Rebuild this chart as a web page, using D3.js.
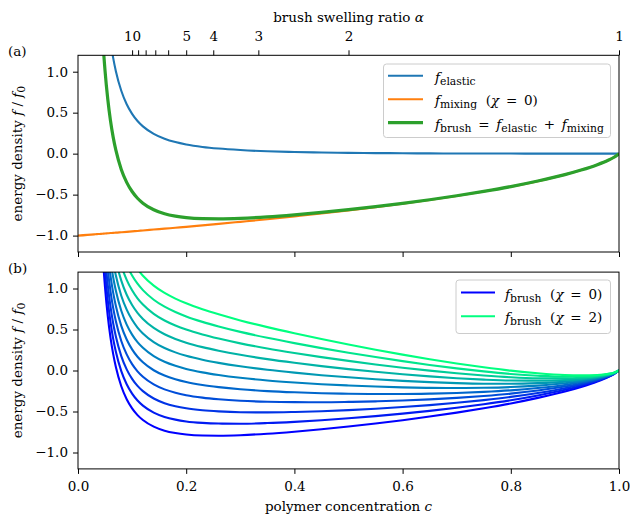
<!DOCTYPE html>
<html>
<head>
<meta charset="utf-8">
<script src="https://cdn.jsdelivr.net/npm/d3@7"></script>
<style>
  body { margin: 0; background: #fff; }
  text { font-family: "DejaVu Serif", serif; fill: #000; white-space: pre; }
</style>
</head>
<body>
<div id="chart"></div>
<script>
// ---- data ----
// panel (a): polymer concentration grid and the three energy densities
var cPanelA = [0, 0.03, 0.035, 0.04, 0.045, 0.05, 0.055, 0.06, 0.065, 0.07, 0.08, 0.09, 0.1, 0.11, 0.12,
  0.14, 0.16, 0.18, 0.2, 0.23, 0.26, 0.3, 0.35, 0.4, 0.45, 0.5, 0.55, 0.6, 0.65, 0.7, 0.75, 0.8, 0.85,
  0.9, 0.93, 0.96, 0.98, 0.99, 1.0];
var fElastic = [null, 5.541, 4.067, 3.110, 2.455, 1.986, 1.639, 1.375, 1.169, 1.006, 0.767, 0.603, 0.486,
  0.399, 0.333, 0.242, 0.182, 0.141, 0.112, 0.082, 0.062, 0.044, 0.029, 0.020, 0.014, 0.010, 0.007, 0.005,
  0.003, 0.002, 0.001, 0.001, 0, 0, 0, 0, 0, 0, 0];
var fMixing = [-1, -0.985, -0.982, -0.980, -0.977, -0.975, -0.972, -0.969, -0.967, -0.964, -0.959, -0.954,
  -0.948, -0.943, -0.937, -0.926, -0.915, -0.904, -0.893, -0.875, -0.857, -0.832, -0.800, -0.766, -0.731,
  -0.693, -0.653, -0.611, -0.565, -0.516, -0.462, -0.402, -0.335, -0.256, -0.200, -0.134, -0.080, -0.047, 0];
var fBrush = [null, 4.556, 3.085, 2.131, 1.477, 1.011, 0.667, 0.405, 0.202, 0.042, -0.192, -0.350, -0.462,
  -0.544, -0.604, -0.685, -0.734, -0.763, -0.781, -0.793, -0.795, -0.789, -0.771, -0.746, -0.717, -0.683,
  -0.646, -0.606, -0.562, -0.514, -0.461, -0.402, -0.334, -0.256, -0.200, -0.134, -0.080, -0.047, 0];

// panel (b): brush energy for chi = 0, 0.2, ..., 2
var cPanelB = [0.04, 0.045, 0.05, 0.055, 0.06, 0.065, 0.07, 0.08, 0.09, 0.1, 0.11, 0.12, 0.14, 0.16, 0.18,
  0.2, 0.23, 0.26, 0.3, 0.35, 0.4, 0.45, 0.5, 0.55, 0.6, 0.65, 0.7, 0.75, 0.8, 0.85, 0.9, 0.93, 0.96, 0.98,
  0.99, 1.0];
var chiValues = [0, 0.2, 0.4, 0.6, 0.8, 1.0, 1.2, 1.4, 1.6, 1.8, 2.0];
var fBrushChi = [
  [2.131, 1.477, 1.011, 0.667, 0.405, 0.202, 0.042, -0.192, -0.350, -0.462, -0.544, -0.604, -0.685, -0.734, -0.763, -0.781, -0.793, -0.795, -0.789, -0.771, -0.746, -0.717, -0.683, -0.646, -0.606, -0.562, -0.514, -0.461, -0.402, -0.334, -0.256, -0.200, -0.134, -0.080, -0.047, 0],
  [2.323, 1.668, 1.201, 0.856, 0.593, 0.389, 0.228, -0.008, -0.168, -0.282, -0.366, -0.428, -0.513, -0.566, -0.599, -0.621, -0.639, -0.647, -0.649, -0.641, -0.626, -0.607, -0.583, -0.556, -0.526, -0.492, -0.454, -0.411, -0.362, -0.304, -0.236, -0.186, -0.126, -0.076, -0.045, 0],
  [2.515, 1.859, 1.391, 1.045, 0.781, 0.576, 0.414, 0.176, 0.014, -0.102, -0.188, -0.252, -0.341, -0.398, -0.435, -0.461, -0.485, -0.499, -0.509, -0.511, -0.506, -0.497, -0.483, -0.466, -0.446, -0.422, -0.394, -0.361, -0.322, -0.274, -0.216, -0.172, -0.118, -0.072, -0.043, 0],
  [2.707, 2.050, 1.581, 1.234, 0.969, 0.763, 0.600, 0.360, 0.196, 0.078, -0.010, -0.076, -0.169, -0.230, -0.271, -0.301, -0.331, -0.351, -0.369, -0.381, -0.386, -0.387, -0.383, -0.376, -0.366, -0.352, -0.334, -0.311, -0.282, -0.244, -0.196, -0.158, -0.110, -0.068, -0.041, 0],
  [2.899, 2.241, 1.771, 1.423, 1.157, 0.950, 0.786, 0.544, 0.378, 0.258, 0.168, 0.100, 0.003, -0.062, -0.107, -0.141, -0.177, -0.203, -0.229, -0.251, -0.266, -0.277, -0.283, -0.286, -0.286, -0.282, -0.274, -0.261, -0.242, -0.214, -0.176, -0.144, -0.102, -0.064, -0.039, 0],
  [3.091, 2.432, 1.961, 1.612, 1.345, 1.137, 0.972, 0.728, 0.560, 0.438, 0.346, 0.276, 0.175, 0.106, 0.057, 0.019, -0.023, -0.055, -0.089, -0.121, -0.146, -0.167, -0.183, -0.196, -0.206, -0.212, -0.214, -0.211, -0.202, -0.184, -0.156, -0.130, -0.094, -0.060, -0.037, 0],
  [3.283, 2.623, 2.151, 1.801, 1.533, 1.324, 1.158, 0.912, 0.742, 0.618, 0.524, 0.452, 0.347, 0.274, 0.221, 0.179, 0.131, 0.093, 0.051, 0.009, -0.026, -0.057, -0.083, -0.106, -0.126, -0.142, -0.154, -0.161, -0.162, -0.154, -0.136, -0.116, -0.086, -0.056, -0.035, 0],
  [3.475, 2.814, 2.341, 1.990, 1.721, 1.511, 1.344, 1.096, 0.924, 0.798, 0.702, 0.628, 0.519, 0.442, 0.385, 0.339, 0.285, 0.241, 0.191, 0.139, 0.094, 0.053, 0.017, -0.016, -0.046, -0.072, -0.094, -0.111, -0.122, -0.124, -0.116, -0.102, -0.078, -0.052, -0.033, 0],
  [3.667, 3.005, 2.531, 2.179, 1.909, 1.698, 1.530, 1.280, 1.106, 0.978, 0.880, 0.804, 0.691, 0.610, 0.549, 0.499, 0.439, 0.389, 0.331, 0.269, 0.214, 0.163, 0.117, 0.074, 0.034, -0.002, -0.034, -0.061, -0.082, -0.094, -0.096, -0.088, -0.070, -0.048, -0.031, 0],
  [3.859, 3.196, 2.721, 2.368, 2.097, 1.885, 1.716, 1.464, 1.288, 1.158, 1.058, 0.980, 0.863, 0.778, 0.713, 0.659, 0.593, 0.537, 0.471, 0.399, 0.334, 0.273, 0.217, 0.164, 0.114, 0.068, 0.026, -0.011, -0.042, -0.064, -0.076, -0.074, -0.062, -0.044, -0.029, 0],
  [4.051, 3.387, 2.911, 2.557, 2.285, 2.072, 1.902, 1.648, 1.470, 1.338, 1.236, 1.156, 1.035, 0.946, 0.877, 0.819, 0.747, 0.685, 0.611, 0.529, 0.454, 0.383, 0.317, 0.254, 0.194, 0.138, 0.086, 0.039, -0.002, -0.034, -0.056, -0.060, -0.054, -0.040, -0.027, 0]
];

// ticks
var cTicks = [0, 0.2, 0.4, 0.6, 0.8, 1.0];
var fTicks = [-1, -0.5, 0, 0.5, 1];
var alphaTicks = [10, 9, 8, 7, 6, 5, 4, 3, 2, 1];
var alphaLabels = ["10", "", "", "", "", "5", "4", "3", "2", "1"];

// ---- layout ----
var W = 630, H = 515, fs = 13.5;
var svg = d3.select("#chart").append("svg").attr("width", W).attr("height", H);

var x = d3.scaleLinear().domain([0, 1]).range([78, 619]);
var yA = d3.scaleLinear().domain([-1.2, 1.2]).range([252, 55.3]);
var yB = d3.scaleLinear().domain([-1.2, 1.2]).range([468.9, 272.1]);

var winter = d3.interpolateRgb("#0000ff", "#00ff80");
var eq = "\u2002=\u2002", plus = "\u2002+\u2002";

// write text with italic / subscript pieces
function mathText(t, parts, size) {
  var shift = 0;
  parts.forEach(function(p) {
    var span = t.append("tspan").text(p[0]);
    var want = p[1] === "s" ? 3 : 0;
    if (want !== shift) { span.attr("dy", want - shift); shift = want; }
    if (p[1] === "i") span.style("font-style", "italic");
    span.style("font-size", (p[1] === "s" ? size * 0.8 : size) + "px");
  });
  return t;
}

function styleAxis(g) {
  g.select(".domain").remove();
  g.selectAll(".tick line").attr("stroke", "#000").attr("stroke-width", 1);
  g.selectAll(".tick text").style("font-size", fs + "px").attr("fill", "#000");
}

function panel(y, id) {
  svg.append("clipPath").attr("id", id)
    .append("rect").attr("x", x(0)).attr("y", y(1.2))
    .attr("width", x(1) - x(0)).attr("height", y(-1.2) - y(1.2));
  // y axis
  svg.append("g").attr("transform", "translate(" + x(0) + ",0)")
    .call(d3.axisLeft(y).tickValues(fTicks).tickFormat(d3.format(".1f")).tickSize(5).tickPadding(5))
    .call(styleAxis);
  return svg.append("g").attr("clip-path", "url(#" + id + ")");
}

function frame(y) {
  svg.append("rect").attr("x", x(0)).attr("y", y(1.2))
    .attr("width", x(1) - x(0)).attr("height", y(-1.2) - y(1.2))
    .attr("fill", "none").attr("stroke", "#000").attr("stroke-width", 1);
}

function yLabel(cy) {
  var t = svg.append("text").attr("text-anchor", "middle")
    .attr("transform", "translate(22," + cy + ") rotate(-90)");
  mathText(t, [["energy density ", "r"], ["f", "i"], [" / ", "r"], ["f", "i"], ["0", "s"]], fs);
}

// ---------------- panel (a) ----------------
var gA = panel(yA, "clipA");

svg.append("g").attr("transform", "translate(0," + yA(-1.2) + ")")
  .call(d3.axisBottom(x).tickValues(cTicks).tickFormat("").tickSize(5))
  .call(styleAxis);

svg.append("g").attr("transform", "translate(0," + yA(1.2) + ")")
  .call(d3.axisTop(x).tickValues(alphaTicks.map(function(a) { return 1 / a; }))
    .tickFormat(function(d, i) { return alphaLabels[i]; }).tickSize(5).tickPadding(9))
  .call(styleAxis);

var lineA = function(vals) {
  return d3.line()
    .defined(function(d, i) { return vals[i] !== null; })
    .x(function(d) { return x(d); })
    .y(function(d, i) { return yA(vals[i]); })
    .curve(d3.curveMonotoneX)(cPanelA);
};

gA.append("path").attr("d", lineA(fElastic)).attr("fill", "none")
  .attr("stroke", "#1f77b4").attr("stroke-width", 2.1);
gA.append("path").attr("d", lineA(fMixing)).attr("fill", "none")
  .attr("stroke", "#ff7f0e").attr("stroke-width", 2.1);
gA.append("path").attr("d", lineA(fBrush)).attr("fill", "none")
  .attr("stroke", "#2ca02c").attr("stroke-width", 3.2);

frame(yA);
yLabel((yA(1.2) + yA(-1.2)) / 2);

var topLabel = svg.append("text").attr("text-anchor", "middle")
  .attr("x", (x(0) + x(1)) / 2).attr("y", 22);
mathText(topLabel, [["brush swelling ratio ", "r"], ["\u03b1", "i"]], fs);

svg.append("text").attr("x", 8).attr("y", 56).style("font-size", fs + "px").text("(a)");

// legend (a)
var legA = svg.append("g");
legA.append("rect").attr("x", 383.5).attr("y", 64).attr("width", 227).attr("height", 73.5)
  .attr("rx", 3).attr("fill", "#fff").attr("fill-opacity", 0.8)
  .attr("stroke", "#cccccc").attr("stroke-width", 1);
var legAItems = [
  { color: "#1f77b4", w: 2.1, parts: [["f", "i"], ["elastic", "s"]] },
  { color: "#ff7f0e", w: 2.1, parts: [["f", "i"], ["mixing", "s"], ["  (", "r"], ["\u03c7", "i"], [eq + "0)", "r"]] },
  { color: "#2ca02c", w: 3.2, parts: [["f", "i"], ["brush", "s"], [eq, "r"], ["f", "i"], ["elastic", "s"],
    [plus, "r"], ["f", "i"], ["mixing", "s"]] }
];
legAItems.forEach(function(d, i) {
  var ry = 75.7 + i * 23.5;
  legA.append("line").attr("x1", 388).attr("x2", 423).attr("y1", ry).attr("y2", ry)
    .attr("stroke", d.color).attr("stroke-width", d.w);
  mathText(legA.append("text").attr("x", 435).attr("y", ry + 6), d.parts, fs);
});

// ---------------- panel (b) ----------------
var gB = panel(yB, "clipB");

svg.append("g").attr("transform", "translate(0," + yB(-1.2) + ")")
  .call(d3.axisBottom(x).tickValues(cTicks).tickFormat(d3.format(".1f")).tickSize(5).tickPadding(8))
  .call(styleAxis);

chiValues.forEach(function(chi, k) {
  var vals = fBrushChi[k];
  var path = d3.line()
    .x(function(d) { return x(d); })
    .y(function(d, i) { return yB(vals[i]); })
    .curve(d3.curveMonotoneX)(cPanelB);
  gB.append("path").attr("d", path).attr("fill", "none")
    .attr("stroke", winter(chi / 2)).attr("stroke-width", 2.1);
});

frame(yB);
yLabel((yB(1.2) + yB(-1.2)) / 2);

svg.append("text").attr("x", 8).attr("y", 273).style("font-size", fs + "px").text("(b)");

var xLabel = svg.append("text").attr("text-anchor", "middle")
  .attr("x", (x(0) + x(1)) / 2).attr("y", 511);
mathText(xLabel, [["polymer concentration ", "r"], ["c", "i"]], fs);

// legend (b)
var legB = svg.append("g");
legB.append("rect").attr("x", 456).attr("y", 280).attr("width", 154.5).attr("height", 53.5)
  .attr("rx", 3).attr("fill", "#fff").attr("fill-opacity", 0.8)
  .attr("stroke", "#cccccc").attr("stroke-width", 1);
[0, 2].forEach(function(chi, i) {
  var ry = 292.5 + i * 23.8;
  legB.append("line").attr("x1", 461).attr("x2", 495).attr("y1", ry).attr("y2", ry)
    .attr("stroke", winter(chi / 2)).attr("stroke-width", 2.1);
  mathText(legB.append("text").attr("x", 505).attr("y", ry + 6),
    [["f", "i"], ["brush", "s"], ["  (", "r"], ["\u03c7", "i"], [eq + chi + ")", "r"]], fs);
});
</script>
</body>
</html>
